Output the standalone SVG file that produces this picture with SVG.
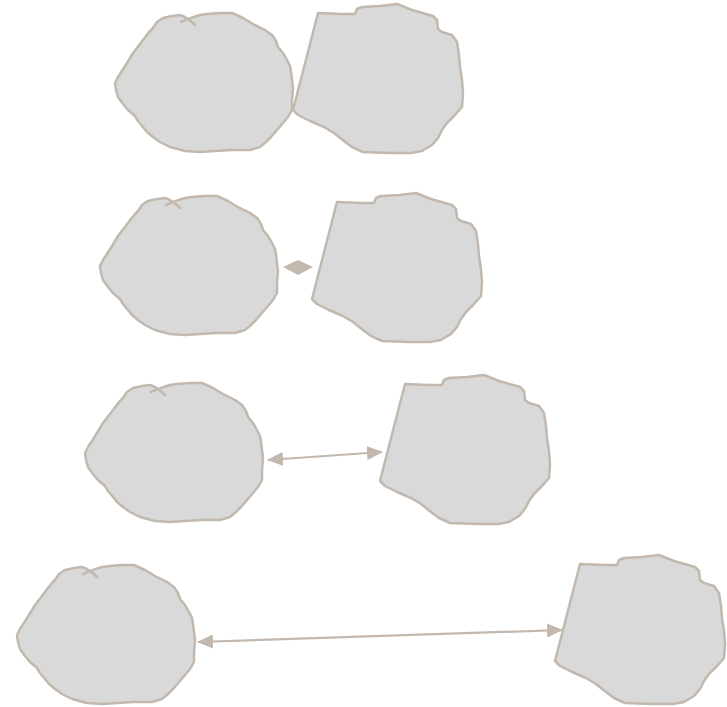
<svg xmlns="http://www.w3.org/2000/svg" xmlns:xlink="http://www.w3.org/1999/xlink" width="727" height="707" viewBox="0 0 727 707">
<style>
.blob{fill:#d9d9d9;stroke:#c2b8ae;stroke-width:2.5;stroke-linejoin:round;stroke-linecap:round}
.edge{fill:none;stroke:#c2b8ae;stroke-width:2.2}
.tip{fill:#c2b8ae}
</style>
<defs>
<marker id="ah" viewBox="0 0 16 14" refX="15" refY="7" markerWidth="16" markerHeight="14" markerUnits="userSpaceOnUse" orient="auto-start-reverse">
<path class="tip" d="M0,0 L16,7 L0,14 Z"/>
</marker>
<path id="lb" class="blob" d="M181,22 C186,20 192,17 200,15 L207,14 L220,13 L232,13 L243,18 L253,24 L265,30 L272,35 L276,41 L278,47 L283,53 L287,60 L290,66 L291,72 L292,80 L293,88 L292,100 L292,110 L288,117 L283,123 L277,130 L271,137 L266,142 L260,147 L250,150 L231,150 L215,151 L200,152 L185,151 L170,147 L160,142 L153,137 L147,132 L143,127 L138,121 L135,116 L128,110 L123,104 L118,97 L116,90 L115,83 L118,77 L122,71 L127,63 L133,53 L140,44 L146,36 L150,31 L153,28 L157,22 L163,18 L172,16 L180,15 C186,17 191,21 195,25"/>
<path id="rb" class="blob" d="M318,13 L342,14 L355,14 L357,9 L362,7 L380,6 L397,4 L412,10 L433,16 L437,20 L438,29 L442,32 L452,35 L457,42 L459,55 L460,67 L462,80 L463,93 L462,107 L455,115 L447,123 L442,130 L438,138 L432,145 L422,151 L411,153 L390,153 L363,152 L352,147 L344,141 L334,133 L324,127 L310,121 L298,115 L293,110 Z"/>
</defs>
<g id="node-1a"><use xlink:href="#lb"/></g>
<g id="node-1b"><use xlink:href="#rb"/></g>
<g id="node-2a"><use xlink:href="#lb" transform="translate(-15,183)"/></g>
<g id="node-2b"><use xlink:href="#rb" transform="translate(19,189)"/></g>
<g id="node-3a"><use xlink:href="#lb" transform="translate(-30,370)"/></g>
<g id="node-3b"><use xlink:href="#rb" transform="translate(87,371)"/></g>
<g id="node-4a"><use xlink:href="#lb" transform="translate(-98,552)"/></g>
<g id="node-4b"><use xlink:href="#rb" transform="translate(262,551)"/></g>
<g id="connectors">
<polygon class="tip" points="283,267 298,260 313,267 298,275"/>
<line class="edge" x1="268" y1="460" x2="382" y2="452" marker-start="url(#ah)" marker-end="url(#ah)"/>
<line class="edge" x1="198" y1="642" x2="562" y2="630" marker-start="url(#ah)" marker-end="url(#ah)"/>
</g>
</svg>
